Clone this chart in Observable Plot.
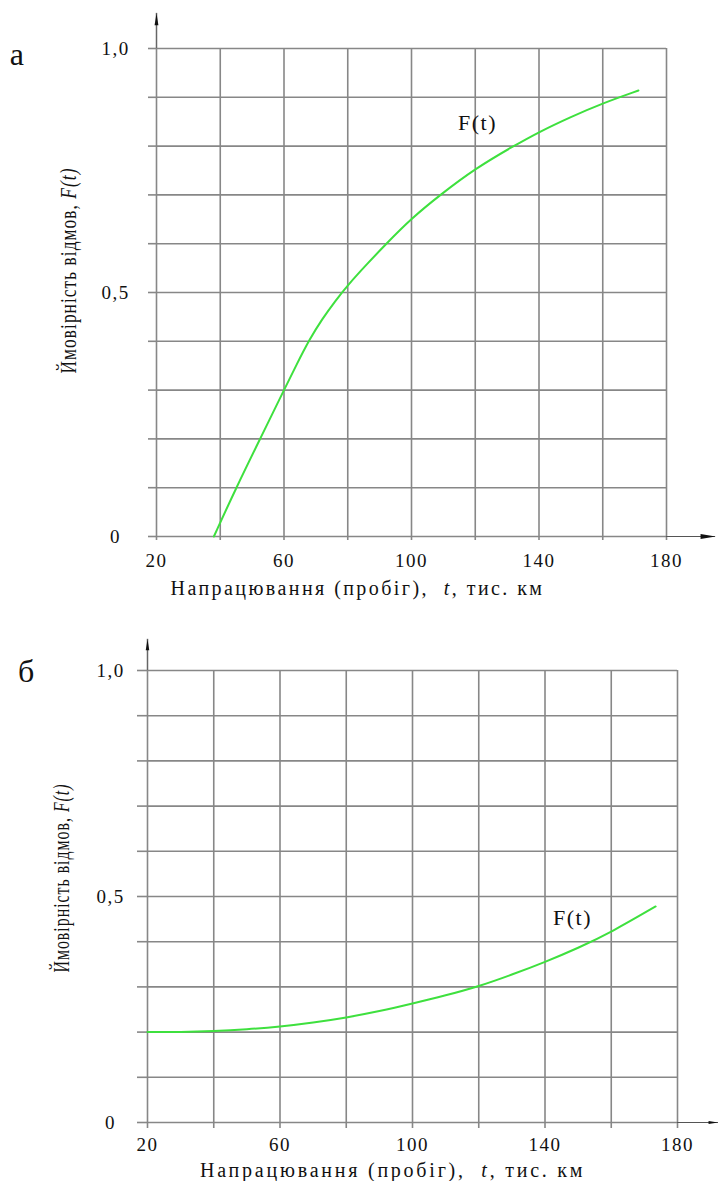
<!DOCTYPE html>
<html>
<head>
<meta charset="utf-8">
<script src="https://cdn.jsdelivr.net/npm/d3@7"></script>
<script src="https://cdn.jsdelivr.net/npm/@observablehq/plot@0.6"></script>
<style>
  html, body { margin: 0; padding: 0; background: #fff; }
  #root { width: 718px; }
  #root svg { display: block; }
  #root svg text { font-family: 'Liberation Serif', 'Times New Roman', serif; }
</style>
</head>
<body>
<div id="root"></div>
<script>
// ---- data ----
// chart "а"
const tA = [38, 45, 52.5, 60, 64, 68, 72, 76, 80, 86, 91.8, 100, 109, 120, 132, 140, 150, 160, 171.2];
const FA = [0, 0.1, 0.2, 0.3, 0.353, 0.404, 0.446, 0.482, 0.515, 0.558, 0.598, 0.652, 0.7, 0.754, 0.8, 0.829, 0.86, 0.888, 0.914];
// chart "б"
const tB = [20, 30, 40, 50, 60, 70, 80, 90, 100, 110, 120, 130, 140, 150, 160, 173.4];
const FB = [0.2, 0.2, 0.202, 0.206, 0.212, 0.221, 0.232, 0.246, 0.263, 0.281, 0.301, 0.327, 0.355, 0.386, 0.421, 0.478];

// ticks and labels
const xTicks = [20, 40, 60, 80, 100, 120, 140, 160, 180];
const xLabelValues = [20, 60, 100, 140, 180];
const yTicks = [0, 0.1, 0.2, 0.3, 0.4, 0.5, 0.6, 0.7, 0.8, 0.9, 1];
const yLabelValues = [0, 0.5, 1];
const yLabelTexts = ["0", "0,5", "1,0"];

// texts
const panelLetters = ["а", "б"];
const curveLabel = "F(t)";
const xTitleParts = ["Напрацювання (пробіг),  ", "t", ", тис. км"];
const yTitleParts = ["Ймовірність відмов, ", "F(t)"];
const xTitle = xTitleParts.join("");
const yTitle = yTitleParts.join("");

const GREEN = "#3ee03e";
const GRID = "#878787";
const FONT = "'Liberation Serif', 'Times New Roman', serif";

// narrow filled arrowhead, tip at the anchor point, pointing up
const narrowTri = {
  draw(ctx, size) {
    const r = Math.sqrt(size / Math.PI);
    ctx.moveTo(0, 0);
    ctx.lineTo(r * 0.32, 2 * r);
    ctx.lineTo(-r * 0.32, 2 * r);
    ctx.closePath();
  }
};

function makeChart(cfg) {
  const data = cfg.t.map((t, i) => ({t, F: cfg.F[i]}));
  const txt = {fontFamily: FONT, fill: "#111", textAnchor: "middle", lineAnchor: "middle"};
  const svg = Plot.plot({
    width: 718,
    height: cfg.height,
    marginTop: cfg.mt, marginBottom: cfg.mb, marginLeft: cfg.ml, marginRight: cfg.mr,
    x: {domain: [20, 180]},
    y: {domain: [0, 1]},
    style: {fontFamily: FONT, background: "#fff", overflow: "visible", letterSpacing: "1.5px", color: "#111"},
    marks: [
      Plot.gridY(yTicks, {stroke: GRID, strokeOpacity: 1, strokeWidth: 1.6}),
      Plot.gridX(xTicks, {stroke: GRID, strokeOpacity: 1, strokeWidth: 1.6}),
      Plot.axisY(yTicks, {
        tickSize: cfg.yTickSize, tickPadding: cfg.yTickPad, stroke: GRID, strokeWidth: 1.6,
        textAnchor: "middle", fontSize: 19, fontFamily: FONT, fill: "#111", label: null,
        tickFormat: d => { const i = yLabelValues.findIndex(v => Math.abs(v - d) < 1e-9); return i >= 0 ? yLabelTexts[i] : ""; }
      }),
      Plot.axisX(xTicks, {
        tickSize: cfg.xTickSize, tickPadding: cfg.xTickPad, stroke: GRID, strokeWidth: 1.6,
        fontSize: 19, fontFamily: FONT, fill: "#111", label: null,
        tickFormat: d => xLabelValues.includes(d) ? String(d) : ""
      }),
      // axis extensions with arrowheads
      Plot.ruleX([20], {y1: 1, y2: cfg.yTop, stroke: "#666", strokeWidth: 1.5}),
      Plot.ruleY([0], {x1: 180, x2: cfg.xEnd, stroke: "#555", strokeWidth: 1}),
      Plot.dot([{x: 20, y: cfg.yTop}], {x: "x", y: "y", symbol: narrowTri, r: cfg.yArrowR, fill: "#111", stroke: "none"}),
      Plot.dot([{x: cfg.xEnd, y: 0}], {x: "x", y: "y", symbol: narrowTri, r: cfg.xArrowR, rotate: 90, fill: "#111", stroke: "none"}),
      // curve
      Plot.line(data, {x: "t", y: "F", stroke: GREEN, strokeWidth: 2, curve: "basis"}),
      // texts
      Plot.text([curveLabel], {...txt, text: d => d, frameAnchor: "top-left", dx: cfg.lab.dx, dy: cfg.lab.dy, fontSize: 22}),
      Plot.text([cfg.letter], {...txt, text: d => d, frameAnchor: "top-left", dx: cfg.let.dx, dy: cfg.let.dy, fontSize: 32}),
      Plot.text([xTitle], {...txt, text: d => d, frameAnchor: "bottom", dx: cfg.xt.dx, dy: cfg.xt.dy, fontSize: 20}),
      Plot.text([yTitle], {...txt, text: d => d, frameAnchor: "left", dx: cfg.yt.dx, dy: cfg.yt.dy, rotate: -90, fontSize: 24})
    ]
  });
  const s = d3.select(svg);
  s.selectAll("text").each(function() {
    const el = d3.select(this);
    const content = this.textContent;
    if (content === xTitle) {
      el.text(null);
      el.append("tspan").text(xTitleParts[0]);
      el.append("tspan").attr("font-style", "italic").text(xTitleParts[1]);
      el.append("tspan").text(xTitleParts[2]);
      el.attr("textLength", cfg.xt.len).attr("lengthAdjust", "spacing").style("white-space", "pre");
    } else if (content === yTitle) {
      el.text(null);
      el.append("tspan").text(yTitleParts[0]);
      el.append("tspan").attr("font-style", "italic").text(yTitleParts[1]);
      el.attr("textLength", cfg.yt.len).attr("lengthAdjust", "spacingAndGlyphs");
    }
  });
  return svg;
}

const root = document.getElementById("root");
root.appendChild(makeChart({
  t: tA, F: FA, letter: panelLetters[0],
  height: 610, mt: 48, mb: 74, ml: 156, mr: 52,
  yTickSize: 8, yTickPad: 33, xTickSize: 4, xTickPad: 13,
  yTop: 1.072, xEnd: 195.4, yArrowR: 6, xArrowR: 7.5,
  lab: {dx: 321, dy: 74.5},
  let: {dx: -139, dy: 6},
  xt: {dx: -54.5, dy: 52.5, len: 373},
  yt: {dx: -88.5, dy: -22, len: 206}
}));
root.appendChild(makeChart({
  t: tB, F: FB, letter: panelLetters[1],
  height: 571, mt: 60, mb: 59, ml: 147, mr: 41,
  yTickSize: 10, yTickPad: 27, xTickSize: 6, xTickPad: 8.5,
  yTop: 1.069, xEnd: 192.4, yArrowR: 5.5, xArrowR: 5,
  lab: {dx: 425, dy: 247},
  let: {dx: -120.5, dy: 1},
  xt: {dx: -20.5, dy: 48, len: 384},
  yt: {dx: -86, dy: -18.5, len: 189}
}));
</script>
</body>
</html>
